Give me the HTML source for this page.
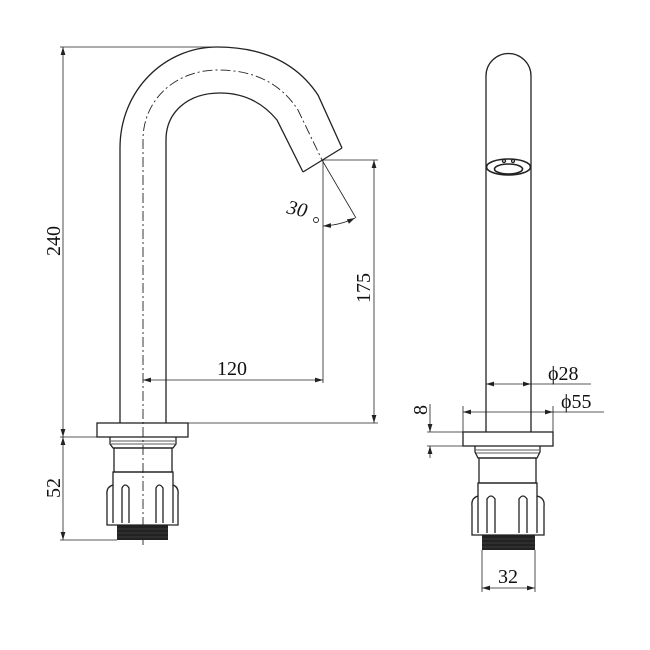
<!DOCTYPE html>
<html><head><meta charset="utf-8"><style>
html,body{margin:0;padding:0;background:#fff;}
svg{display:block;}
text{font-family:"Liberation Serif",serif;fill:#111;}
</style></head><body>
<svg width="650" height="650" viewBox="0 0 650 650" xmlns="http://www.w3.org/2000/svg">
<defs>
<marker id="a" viewBox="0 0 10 10" refX="10" refY="5" markerWidth="8" markerHeight="8" orient="auto-start-reverse" markerUnits="userSpaceOnUse"><path d="M0,2 L10,5 L0,8 Z" fill="#222"/></marker>
</defs>
<g fill="none" stroke="#222" stroke-width="1.3">
<path d="M120,423 L120,148 C120,90 165,47 217,47 C262,47 296,62 318,95 L342,148"/>
<path d="M166,423 L166,140 C166,112 188,93 220,93 C245,93 263,103 277,120 L303,172"/>
<path d="M303,172 L342,148"/>
<path d="M143,545 L143,140 C143,100 175,70 218,70 C252,70 280,82 298,110 L322,160" stroke-dasharray="10,3,2,3" stroke-width="0.9"/>
<rect x="97" y="423" width="91" height="14"/>
<path d="M110,437 L110,444 L113,448 L173,448 L176,444 L176,437"/>
<line x1="111" y1="441" x2="175" y2="441" stroke-width="0.7"/>
<line x1="111" y1="444" x2="175" y2="444" stroke-width="0.7"/>
<rect x="114" y="448" width="58" height="24"/>
<path d="M113,472 L173,472 L173,485 Q179,487 178,495 L178,525 L107,525 L107,495 Q106,487 113,485 Z"/>
<path d="M113,485 L113,523 M173,485 L173,523"/>
<path d="M122,523 L122,488 Q125,482 129,488 L129,523"/>
<path d="M156,523 L156,488 Q159,482 163,488 L163,523"/>
</g>
<rect x="117" y="525" width="51" height="15" fill="#222"/>
<g stroke="#555" stroke-width="0.5">
<line x1="117" y1="529" x2="168" y2="529"/><line x1="117" y1="533" x2="168" y2="533"/><line x1="117" y1="537" x2="168" y2="537"/>
</g>

<g fill="none" stroke="#222" stroke-width="0.8">
<line x1="60" y1="47" x2="217" y2="47"/>
<line x1="60" y1="437" x2="97" y2="437"/>
<line x1="63" y1="47" x2="63" y2="437" marker-start="url(#a)" marker-end="url(#a)"/>
<line x1="63" y1="437" x2="63" y2="540" marker-start="url(#a)" marker-end="url(#a)"/>
<line x1="60" y1="540" x2="117" y2="540"/>
<line x1="188" y1="423" x2="378" y2="423"/>
<line x1="322" y1="160" x2="378" y2="160"/>
<line x1="374" y1="160" x2="374" y2="423" marker-start="url(#a)" marker-end="url(#a)"/>
<line x1="323" y1="160" x2="323" y2="383"/>
<line x1="143" y1="380" x2="323" y2="380" marker-start="url(#a)" marker-end="url(#a)"/>
<line x1="322" y1="160" x2="356" y2="218"/>
<path d="M323,226 Q341,225 355,218" marker-start="url(#a)" marker-end="url(#a)"/>
</g>
<text x="232" y="375" font-size="20" text-anchor="middle">120</text>
<text transform="translate(60,241) rotate(-90)" font-size="20" text-anchor="middle">240</text>
<text transform="translate(370,288) rotate(-90)" font-size="20" text-anchor="middle">175</text>
<text transform="translate(60,488) rotate(-90)" font-size="20" text-anchor="middle">52</text>
<text x="287" y="216" font-size="20" font-style="italic" transform="rotate(12 300 210)">30</text>
<circle cx="316" cy="220" r="2.5" fill="none" stroke="#222" stroke-width="0.9"/>

<g fill="none" stroke="#222" stroke-width="1.3">
<path d="M486,432 L486,76 A22.5,22.5 0 0 1 531,76 L531,432"/>
<ellipse cx="508.5" cy="167" rx="22" ry="8" stroke-width="1.6"/>
<ellipse cx="508.5" cy="169" rx="14" ry="5" stroke-width="1.6"/>
<circle cx="504" cy="161" r="1.5"/><circle cx="513" cy="161" r="1.5"/>
<rect x="463" y="432" width="90" height="14"/>
<path d="M475,446 L475,452 L478,458 L537,458 L540,452 L540,446"/>
<line x1="476" y1="450" x2="539" y2="450" stroke-width="0.7"/>
<line x1="476" y1="453" x2="539" y2="453" stroke-width="0.7"/>
<rect x="479" y="458" width="57" height="25"/>
<path d="M478,483 L537,483 L537,496 Q545,498 544,506 L544,535 L472,535 L472,506 Q471,498 478,496 Z"/>
<path d="M478,496 L478,533 M537,496 L537,533"/>
<path d="M487,533 L487,499 Q491,493 495,499 L495,533"/>
<path d="M519,533 L519,499 Q523,493 527,499 L527,533"/>
</g>
<rect x="482" y="535" width="53" height="15" fill="#222"/>
<g stroke="#555" stroke-width="0.5">
<line x1="482" y1="539" x2="535" y2="539"/><line x1="482" y1="543" x2="535" y2="543"/><line x1="482" y1="547" x2="535" y2="547"/>
</g>
<g fill="none" stroke="#222" stroke-width="0.8">
<line x1="486" y1="384" x2="531" y2="384" marker-start="url(#a)" marker-end="url(#a)"/>
<line x1="531" y1="384" x2="591" y2="384"/>
<line x1="463" y1="412" x2="553" y2="412" marker-start="url(#a)" marker-end="url(#a)"/>
<line x1="463" y1="406" x2="463" y2="432"/>
<line x1="553" y1="406" x2="553" y2="432"/>
<line x1="553" y1="412" x2="604" y2="412"/>
<line x1="427" y1="432" x2="463" y2="432"/>
<line x1="427" y1="446" x2="463" y2="446"/>
<line x1="430" y1="404" x2="430" y2="432" marker-end="url(#a)"/>
<line x1="430" y1="458" x2="430" y2="446" marker-end="url(#a)"/>
<line x1="482" y1="550" x2="482" y2="592"/>
<line x1="535" y1="550" x2="535" y2="592"/>
<line x1="482" y1="588" x2="535" y2="588" marker-start="url(#a)" marker-end="url(#a)"/>
</g>
<text x="548" y="380" font-size="20">ϕ28</text>
<text x="561" y="408" font-size="20">ϕ55</text>
<text transform="translate(427,410) rotate(-90)" font-size="20" text-anchor="middle">8</text>
<text x="508" y="583" font-size="20" text-anchor="middle">32</text>
</svg>
</body></html>
